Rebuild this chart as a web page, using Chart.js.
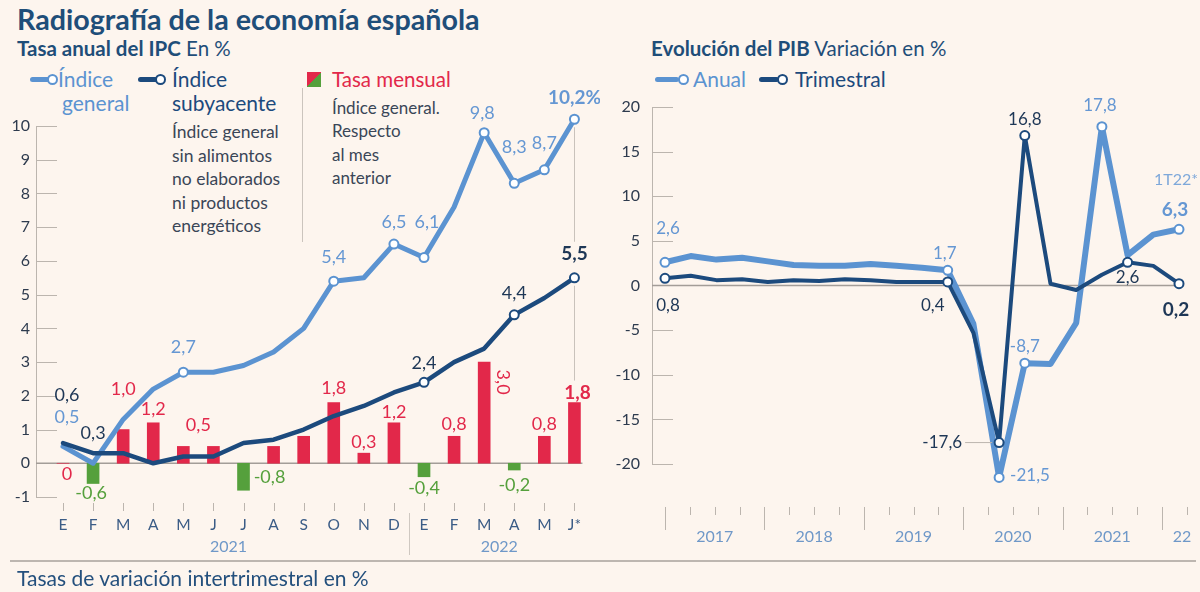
<!DOCTYPE html>
<html lang="es">
<head>
<meta charset="utf-8">
<script src="https://cdn.jsdelivr.net/npm/chart.js@4.4.0/dist/chart.umd.min.js"></script>
<style>
  html, body { margin: 0; padding: 0; background: #fdf5ee; }
  #wrap { position: relative; width: 1200px; height: 592px; background: #fdf5ee; overflow: hidden; font-family: Lato, "Open Sans", sans-serif; }
  .t { position: absolute; white-space: nowrap; }
  .ln { position: absolute; border-radius: 3px; }
  .dot { position: absolute; box-sizing: border-box; width: 11px; height: 11px; border-radius: 50%; background: #fff; border: 2px solid; }
  canvas { position: absolute; top: 0; }
</style>
</head>
<body>
<div id="wrap">
  <div class="t" style="left:17px;top:1px;font-size:28.7px;line-height:36px;font-weight:700;color:#1f4e79;">Radiografía de la economía española</div>

  <div class="t" style="left:17px;top:36px;font-size:20.5px;line-height:25px;color:#1f4e79;"><b>Tasa anual del IPC</b> En %</div>
  <div class="t" style="left:651px;top:36px;font-size:20.5px;line-height:25px;color:#1f4e79;"><b>Evolución del PIB</b> Variación en %</div>

  <!-- left legend -->
  <div class="ln" style="left:30px;top:77px;width:20px;height:5px;background:#5b93d1;"></div>
  <div class="dot" style="left:47px;top:74px;border-color:#5b93d1;"></div>
  <div class="t" style="left:58px;top:66px;font-size:21px;line-height:26px;color:#5b93d1;">Índice</div>
  <div class="t" style="left:62px;top:90px;font-size:21px;line-height:26px;color:#5b93d1;">general</div>

  <div class="ln" style="left:138px;top:77px;width:20px;height:5px;background:#1c4a7d;"></div>
  <div class="dot" style="left:155px;top:74px;border-color:#1c4a7d;"></div>
  <div class="t" style="left:172px;top:66px;font-size:21px;line-height:26px;color:#1c4a7d;">Índice</div>
  <div class="t" style="left:172px;top:90px;font-size:21px;line-height:26px;color:#1c4a7d;">subyacente</div>
  <div class="t" style="left:172px;top:120px;font-size:17.5px;line-height:23.5px;color:#3a4657;">Índice general<br>sin alimentos<br>no elaborados<br>ni productos<br>energéticos</div>

  <div style="position:absolute;left:302px;top:88px;width:1px;height:154px;background:#cbc4bd;"></div>
  <div style="position:absolute;left:307px;top:72px;width:14px;height:15px;background:linear-gradient(to bottom right,#e2284a 50%,#55a03c 50%);"></div>
  <div class="t" style="left:332px;top:66px;font-size:20.5px;line-height:26px;color:#e2284a;">Tasa mensual</div>
  <div class="t" style="left:332px;top:96px;font-size:17px;line-height:23.3px;color:#3a4657;">Índice general.<br>Respecto<br>al mes<br>anterior</div>

  <!-- right legend -->
  <div class="ln" style="left:655px;top:77px;width:24px;height:5px;background:#5b93d1;"></div>
  <div class="dot" style="left:678px;top:74px;border-color:#5b93d1;"></div>
  <div class="t" style="left:693px;top:66px;font-size:21px;line-height:26px;color:#5b93d1;">Anual</div>
  <div class="ln" style="left:759px;top:77px;width:20px;height:5px;background:#1c4a7d;"></div>
  <div class="dot" style="left:777px;top:74px;border-color:#1c4a7d;"></div>
  <div class="t" style="left:795px;top:66px;font-size:21px;line-height:26px;color:#1c4a7d;">Trimestral</div>

  <canvas id="ipc" width="600" height="592" style="left:0;width:600px;height:592px;"></canvas>
  <canvas id="pib" width="600" height="592" style="left:600px;width:600px;height:592px;"></canvas>

  <div style="position:absolute;left:10px;top:560px;width:1186px;height:2px;background:#bdb6b0;"></div>
  <div class="t" style="left:17px;top:565px;font-size:21px;line-height:26px;color:#24507d;">Tasas de variación intertrimestral en %</div>
</div>

<script>
// ---------------- DATA ----------------
const meses = ['E','F','M','A','M','J','J','A','S','O','N','D','E','F','M','A','M','J*'];
const aniosIPC = ['2021','2022'];
const ipcGeneral = [0.5, 0.0, 1.3, 2.2, 2.7, 2.7, 2.9, 3.3, 4.0, 5.4, 5.5, 6.5, 6.1, 7.6, 9.8, 8.3, 8.7, 10.2];
const ipcSubyacente = [0.6, 0.3, 0.3, 0.0, 0.2, 0.2, 0.6, 0.7, 1.0, 1.4, 1.7, 2.1, 2.4, 3.0, 3.4, 4.4, 4.9, 5.5];
const tasaMensual = [0, -0.6, 1.0, 1.2, 0.5, 0.5, -0.8, 0.5, 0.8, 1.8, 0.3, 1.2, -0.4, 0.8, 3.0, -0.2, 0.8, 1.8];
const ipcTicks = [-1, 0, 1, 2, 3, 4, 5, 6, 7, 8, 9, 10];

const trimestres = ['1T17','2T17','3T17','4T17','1T18','2T18','3T18','4T18','1T19','2T19','3T19','4T19',
                    '1T20','2T20','3T20','4T20','1T21','2T21','3T21','4T21','1T22'];
const aniosPIB = ['2017','2018','2019','2020','2021','22'];
const pibAnual = [2.6, 3.3, 2.9, 3.1, 2.7, 2.3, 2.2, 2.2, 2.4, 2.2, 2.0, 1.7, -4.3, -21.5, -8.7, -8.8, -4.2, 17.8, 3.4, 5.7, 6.3];
const pibTrimestral = [0.8, 1.1, 0.6, 0.7, 0.4, 0.6, 0.5, 0.7, 0.6, 0.4, 0.4, 0.4, -5.3, -17.6, 16.8, 0.2, -0.5, 1.2, 2.6, 2.2, 0.2];
const pibTicks = [-20, -15, -10, -5, 0, 5, 10, 15, 20];

// ---------------- STYLE ----------------
const C = {
  light: '#5b93d1', dark: '#1c4a7d', red: '#e2284a', green: '#55a03c',
  axis: '#bcb5ae', zero: '#a39d98', tick: '#2e3b4e', month: '#3b5c86', year: '#6f98c8',
  lightTxt: '#6597d3', darkTxt: '#1e3756'
};
const FONT = 'Lato, "Open Sans", sans-serif';
const fmt = v => (v === 0 ? '0' : v.toFixed(1).replace('.', ','));
const markIdx = (n, list) => Array.from({length: n}, (_, i) => list.includes(i) ? 4.5 : 0);
const QUARTER_TICK_STEP = 0.967; // spacing of the quarter tick marks, in category units

Chart.defaults.font.family = FONT;
Chart.defaults.animation = false;

function drawLabels(chart, specs) {
  const ctx = chart.ctx;
  ctx.save();
  specs.forEach(s => {
    const el = chart.getDatasetMeta(s.ds).data[s.i];
    const v = chart.data.datasets[s.ds].data[s.i];
    const txt = s.text !== undefined ? s.text : fmt(v) + (s.suffix || '');
    const x = el.x + (s.dx || 0), y = el.y + (s.dy || 0);
    ctx.font = (s.bold ? '700 ' : '400 ') + (s.size || 18) + 'px ' + FONT;
    ctx.fillStyle = typeof s.color === 'function' ? s.color(v) : s.color;
    ctx.textAlign = s.align || 'center';
    ctx.textBaseline = 'middle';
    if (s.rot) {
      ctx.save(); ctx.translate(x, y); ctx.rotate(s.rot); ctx.fillText(txt, 0, 0); ctx.restore();
    } else {
      ctx.fillText(txt, x, y);
    }
    if (s.leader) {
      ctx.strokeStyle = C.axis; ctx.lineWidth = 1;
      ctx.beginPath(); ctx.moveTo(el.x + s.leader[0], el.y); ctx.lineTo(el.x + s.leader[1], el.y); ctx.stroke();
    }
  });
  ctx.restore();
}
const signColor = v => (v < 0 ? C.green : C.red);

// ---------------- IPC CHART ----------------
const ipcLabels = [
  {ds:0,i:0,dx:4,dy:-29,color:C.lightTxt},
  {ds:0,i:4,dy:-25,color:C.lightTxt},
  {ds:0,i:9,dy:-24,color:C.lightTxt},
  {ds:0,i:11,dy:-22,color:C.lightTxt},
  {ds:0,i:12,dx:3,dy:-35,color:C.lightTxt},
  {ds:0,i:14,dx:-2,dy:-20,color:C.lightTxt},
  {ds:0,i:15,dy:-36,color:C.lightTxt},
  {ds:0,i:16,dy:-27,color:C.lightTxt},
  {ds:0,i:17,dy:-21,color:C.lightTxt,bold:true,size:19,suffix:'%'},
  {ds:1,i:0,dx:4,dy:-48,color:C.darkTxt},
  {ds:1,i:1,dy:-20,color:C.darkTxt},
  {ds:1,i:12,dy:-19,color:C.darkTxt},
  {ds:1,i:15,dy:-22,color:C.darkTxt},
  {ds:1,i:17,dy:-24,color:C.darkTxt,bold:true,size:19},
  {ds:2,i:0,dx:4,dy:11,color:signColor},
  {ds:2,i:1,dx:-2,dy:10,color:signColor},
  {ds:2,i:2,dy:-40,color:signColor},
  {ds:2,i:3,dy:-14,color:signColor},
  {ds:2,i:4,dx:15,dy:-21,color:signColor},
  {ds:2,i:6,dx:26,dy:-13,color:signColor},
  {ds:2,i:9,dy:-14,color:signColor},
  {ds:2,i:10,dy:-11,color:signColor},
  {ds:2,i:11,dy:-11,color:signColor},
  {ds:2,i:12,dy:11,color:signColor},
  {ds:2,i:13,dy:-12,color:signColor},
  {ds:2,i:14,dx:19,dy:20,color:signColor,rot:Math.PI/2},
  {ds:2,i:15,dy:15,color:signColor},
  {ds:2,i:16,dy:-12,color:signColor},
  {ds:2,i:17,dx:3,dy:-10,color:signColor,bold:true,size:19}
];

const ipcDecor = {
  id: 'ipcDecor',
  beforeDatasetsDraw(chart) {
    const {ctx, chartArea: a, scales: {x, y}} = chart;
    const ax = a.left - 27;
    ctx.save();
    ctx.strokeStyle = C.axis; ctx.lineWidth = 1;
    ctx.beginPath(); ctx.moveTo(ax + 0.5, y.getPixelForValue(ipcTicks[ipcTicks.length-1])); ctx.lineTo(ax + 0.5, y.getPixelForValue(ipcTicks[0])); ctx.stroke();
    ipcTicks.forEach(t => {
      if (t === 0) return;
      const py = Math.round(y.getPixelForValue(t)) + 0.5;
      ctx.beginPath(); ctx.moveTo(ax, py); ctx.lineTo(ax + 21, py); ctx.stroke();
    });
    // zero line
    ctx.strokeStyle = C.zero; ctx.lineWidth = 1.5;
    const z = y.getPixelForValue(0);
    ctx.beginPath(); ctx.moveTo(ax, z); ctx.lineTo(a.right + 8, z); ctx.stroke();
    // x tick marks
    ctx.strokeStyle = C.axis; ctx.lineWidth = 1;
    const bottom = y.getPixelForValue(ipcTicks[0]);
    meses.forEach((m, i) => {
      const px = Math.round(x.getPixelForValue(i)) + 0.5;
      ctx.beginPath(); ctx.moveTo(px, bottom + 6); ctx.lineTo(px, bottom + 14); ctx.stroke();
    });
    // year separator & labels
    const sep = (x.getPixelForValue(11) + x.getPixelForValue(12)) / 2;
    ctx.strokeStyle = '#cfc8c1';
    ctx.beginPath(); ctx.moveTo(Math.round(sep) + 0.5, bottom + 16); ctx.lineTo(Math.round(sep) + 0.5, bottom + 58); ctx.stroke();
    ctx.font = '400 16px ' + FONT; ctx.fillStyle = C.year; ctx.textAlign = 'center'; ctx.textBaseline = 'middle';
    ctx.fillText(aniosIPC[0], (x.getPixelForValue(0) + x.getPixelForValue(11)) / 2, bottom + 50);
    ctx.fillText(aniosIPC[1], (x.getPixelForValue(12) + x.getPixelForValue(17)) / 2, bottom + 50);
    // leader lines at last month
    const lx = Math.round(x.getPixelForValue(17)) + 0.5;
    ctx.strokeStyle = '#c9c2bb';
    ctx.beginPath(); ctx.moveTo(lx, y.getPixelForValue(ipcGeneral[17]) + 8); ctx.lineTo(lx, y.getPixelForValue(ipcSubyacente[17]) - 36); ctx.stroke();
    ctx.beginPath(); ctx.moveTo(lx, y.getPixelForValue(ipcSubyacente[17]) + 8); ctx.lineTo(lx, y.getPixelForValue(tasaMensual[17]) - 22); ctx.stroke();
    ctx.restore();
  },
  afterDatasetsDraw(chart) { drawLabels(chart, ipcLabels); }
};

new Chart(document.getElementById('ipc'), {
  type: 'bar',
  data: {
    labels: meses,
    datasets: [
      { type: 'line', data: ipcGeneral, borderColor: C.light, borderWidth: 5, tension: 0, clip: false, order: 2,
        borderJoinStyle: 'round', borderCapStyle: 'round',
        pointRadius: markIdx(meses.length, [4, 9, 11, 12, 14, 15, 16, 17]), pointBackgroundColor: '#fff',
        pointBorderColor: C.light, pointBorderWidth: 2 },
      { type: 'line', data: ipcSubyacente, borderColor: C.dark, borderWidth: 4.5, tension: 0, clip: false, order: 1,
        borderJoinStyle: 'round', borderCapStyle: 'round',
        pointRadius: markIdx(meses.length, [12, 15, 17]), pointBackgroundColor: '#fff',
        pointBorderColor: C.dark, pointBorderWidth: 2 },
      { type: 'bar', data: tasaMensual, backgroundColor: tasaMensual.map(signColor), barThickness: 12, clip: false, order: 3 }
    ]
  },
  options: {
    responsive: false, maintainAspectRatio: false,
    layout: { padding: { top: 105.76, right: 24, left: 0, bottom: 0 } },
    plugins: { legend: { display: false }, tooltip: { enabled: false } },
    scales: {
      x: {
        offset: false,
        grid: { display: false, drawTicks: false }, border: { display: false },
        ticks: { color: C.month, font: { size: 15.5 }, padding: 19, autoSkip: false, maxRotation: 0 },
        afterFit(s) { s.height = 95; }
      },
      y: {
        min: -1, max: 10.6,
        afterBuildTicks(s) { s.ticks = ipcTicks.map(v => ({ value: v })); },
        grid: { display: false, drawTicks: false }, border: { display: false },
        ticks: { color: C.tick, font: { size: 16 }, padding: 33 },
        afterFit(s) { s.width = 63; }
      }
    }
  },
  plugins: [ipcDecor]
});

// ---------------- PIB CHART ----------------
const pibLabels = [
  {ds:0,i:0,dx:3,dy:-34,color:C.lightTxt,size:17},
  {ds:0,i:11,dx:-3,dy:-17,color:C.lightTxt,size:17},
  {ds:0,i:13,dx:11,dy:-2,color:C.lightTxt,size:17,align:'left'},
  {ds:0,i:14,dy:-17,color:C.lightTxt,size:17},
  {ds:0,i:17,dx:-2,dy:-21,color:C.lightTxt,size:17},
  {ds:0,i:20,dx:-4,dy:-19,color:C.lightTxt,size:19,bold:true},
  {ds:0,i:20,dx:-3,dy:-49,color:'#7ea8da',size:16,text:trimestres[20] + '*'},
  {ds:1,i:0,dx:3,dy:27,color:C.darkTxt,size:17},
  {ds:1,i:11,dx:-15,dy:24,color:C.darkTxt,size:17},
  {ds:1,i:13,dx:-37,dy:0,color:C.darkTxt,size:17,align:'right',leader:[-34,-7]},
  {ds:1,i:14,dy:-16,color:C.darkTxt,size:17},
  {ds:1,i:18,dy:15,color:C.darkTxt,size:17},
  {ds:1,i:20,dx:-3,dy:26,color:C.darkTxt,size:19,bold:true}
];

const pibDecor = {
  id: 'pibDecor',
  beforeDatasetsDraw(chart) {
    const {ctx, chartArea: a, scales: {x, y}} = chart;
    const ax = a.left - 13;
    const top = y.getPixelForValue(pibTicks[pibTicks.length-1]);
    const bottom = y.getPixelForValue(pibTicks[0]);
    ctx.save();
    ctx.strokeStyle = C.axis; ctx.lineWidth = 1;
    ctx.beginPath(); ctx.moveTo(ax + 0.5, top); ctx.lineTo(ax + 0.5, bottom); ctx.stroke();
    pibTicks.forEach(t => {
      if (t === 0) return;
      const py = Math.round(y.getPixelForValue(t)) + 0.5;
      ctx.beginPath(); ctx.moveTo(ax, py); ctx.lineTo(ax + 21, py); ctx.stroke();
    });
    ctx.strokeStyle = C.zero; ctx.lineWidth = 1.5;
    const z = y.getPixelForValue(0);
    ctx.beginPath(); ctx.moveTo(ax, z); ctx.lineTo(a.right + 5, z); ctx.stroke();
    // quarter ticks
    ctx.strokeStyle = C.axis; ctx.lineWidth = 1;
    for (let j = 0; j <= trimestres.length; j++) {
      const px = Math.round(x.getPixelForValue(j * QUARTER_TICK_STEP)) + 0.5;
      const tall = j % 4 === 0;
      ctx.beginPath(); ctx.moveTo(px, bottom + 43); ctx.lineTo(px, bottom + (tall ? 66 : 51)); ctx.stroke();
    }
    ctx.font = '400 16px ' + FONT; ctx.fillStyle = C.year; ctx.textAlign = 'center'; ctx.textBaseline = 'middle';
    aniosPIB.forEach((yr, k) => {
      const j0 = k * 4;
      const j1 = Math.min(j0 + 4, trimestres.length + 0.6);
      const px = (x.getPixelForValue(j0 * QUARTER_TICK_STEP) + x.getPixelForValue(j1 * QUARTER_TICK_STEP)) / 2;
      ctx.fillText(yr, px, bottom + 73);
    });
    ctx.restore();
  },
  afterDatasetsDraw(chart) { drawLabels(chart, pibLabels); }
};

new Chart(document.getElementById('pib'), {
  type: 'line',
  data: {
    labels: trimestres,
    datasets: [
      { data: pibAnual, borderColor: C.light, borderWidth: 6, tension: 0, clip: false, order: 2,
        borderJoinStyle: 'round', borderCapStyle: 'round',
        pointRadius: markIdx(trimestres.length, [0, 11, 13, 14, 17, 20]), pointBackgroundColor: '#fff',
        pointBorderColor: C.light, pointBorderWidth: 2 },
      { data: pibTrimestral, borderColor: C.dark, borderWidth: 4, tension: 0, clip: false, order: 1,
        borderJoinStyle: 'round', borderCapStyle: 'round',
        pointRadius: markIdx(trimestres.length, [0, 11, 13, 14, 18, 20]), pointBackgroundColor: '#fff',
        pointBorderColor: C.dark, pointBorderWidth: 2 }
    ]
  },
  options: {
    responsive: false, maintainAspectRatio: false,
    layout: { padding: { top: 107, right: 21, left: 0, bottom: 105.7 } },
    plugins: { legend: { display: false }, tooltip: { enabled: false } },
    scales: {
      x: { display: false, offset: false },
      y: {
        min: -22.5, max: 20,
        afterBuildTicks(s) { s.ticks = pibTicks.map(v => ({ value: v })); },
        grid: { display: false, drawTicks: false }, border: { display: false },
        ticks: { color: C.tick, font: { size: 16 }, padding: 25 },
        afterFit(s) { s.width = 65; }
      }
    }
  },
  plugins: [pibDecor]
});
</script>
</body>
</html>
